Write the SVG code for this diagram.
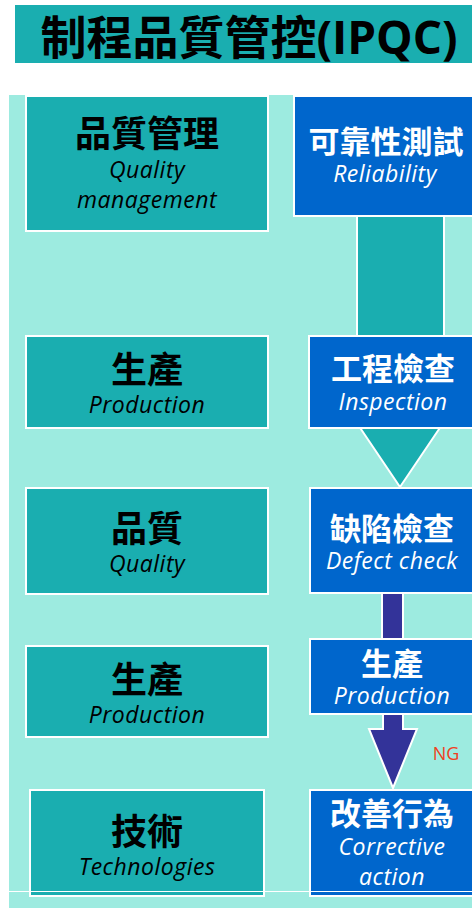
<svg xmlns="http://www.w3.org/2000/svg" width="472" height="908" viewBox="0 0 472 908">
<style>
.lbox{fill:#1AAEB0;stroke:#FFFFFF;stroke-width:2}
.rbox{fill:#0066CC;stroke:#FFFFFF;stroke-width:2}
.cjk{font-family:"Noto Sans CJK TC","Noto Sans CJK SC",sans-serif;font-weight:bold;text-anchor:middle}
.en{font-family:"Open Sans","Noto Sans",sans-serif;font-style:italic;text-anchor:middle;font-size:23px;letter-spacing:0.5px}
.dark{fill:#000000}
.light{fill:#FFFFFF}
</style>
<rect x="0" y="0" width="472" height="908" fill="#FFFFFF"/>
<rect x="9" y="95" width="463" height="813" fill="#9DEBE0"/>
<g id="title">
<rect x="15" y="5" width="460" height="58" fill="#1AAEB0"/>
<text x="249" y="54" font-size="46" fill="#000000" text-anchor="middle" font-weight="bold" font-family="'Open Sans','Noto Sans CJK TC',sans-serif">制程品質管控(IPQC)</text>
</g>
<g id="connectors">
<polygon points="357,215 444,215 444,398 460,398 400,487 340,398 357,398" fill="#1AAEB0" stroke="#FFFFFF" stroke-width="2"/>
<rect x="382" y="590" width="21" height="52" fill="#333399" stroke="#FFFFFF" stroke-width="2"/>
<polygon points="383,710 403,710 403,729 417,729 393,788 369,729 383,729" fill="#333399" stroke="#FFFFFF" stroke-width="2"/>
<text x="446" y="760" font-size="18" fill="#F04020" text-anchor="middle" font-family="'Open Sans','Noto Sans',sans-serif">NG</text>
</g>
<g id="quality-management">
<rect class="lbox" x="26" y="96" width="242" height="135"/>
<text class="cjk dark" x="147" y="147" font-size="36">品質管理</text>
<text class="en dark" x="147" y="178">Quality</text>
<text class="en dark" x="147" y="208">management</text>
</g>
<g id="production-left-1">
<rect class="lbox" x="26" y="336" width="242" height="92"/>
<text class="cjk dark" x="147" y="383" font-size="36">生產</text>
<text class="en dark" x="147" y="413">Production</text>
</g>
<g id="quality">
<rect class="lbox" x="26" y="488" width="242" height="106"/>
<text class="cjk dark" x="147" y="542" font-size="36">品質</text>
<text class="en dark" x="147" y="572">Quality</text>
</g>
<g id="production-left-2">
<rect class="lbox" x="26" y="646" width="242" height="91"/>
<text class="cjk dark" x="147" y="693" font-size="36">生產</text>
<text class="en dark" x="147" y="723">Production</text>
</g>
<g id="technologies">
<rect class="lbox" x="30" y="790" width="234" height="106"/>
<text class="cjk dark" x="147" y="845" font-size="36">技術</text>
<text class="en dark" x="147" y="875">Technologies</text>
</g>
<g id="reliability">
<rect class="rbox" x="294" y="96" width="190" height="120"/>
<text class="cjk light" x="386" y="153" font-size="31">可靠性測試</text>
<text class="en light" x="385" y="182">Reliability</text>
</g>
<g id="inspection">
<rect class="rbox" x="309" y="336" width="180" height="92"/>
<text class="cjk light" x="393" y="380" font-size="31">工程檢查</text>
<text class="en light" x="393" y="410">Inspection</text>
</g>
<g id="defect-check">
<rect class="rbox" x="310" y="488" width="180" height="105"/>
<text class="cjk light" x="392" y="540" font-size="31">缺陷檢查</text>
<text class="en light" x="392" y="569">Defect check</text>
</g>
<g id="production-right">
<rect class="rbox" x="310" y="639" width="180" height="75"/>
<text class="cjk light" x="392" y="675" font-size="31">生產</text>
<text class="en light" x="392" y="704">Production</text>
</g>
<g id="corrective-action">
<rect class="rbox" x="310" y="790" width="180" height="106"/>
<text class="cjk light" x="392" y="825" font-size="31">改善行為</text>
<text class="en light" x="392" y="855">Corrective</text>
<text class="en light" x="392" y="885">action</text>
</g>
<line x1="9" y1="891.5" x2="472" y2="891.5" stroke="#FFFFFF" stroke-width="1"/>
</svg>
